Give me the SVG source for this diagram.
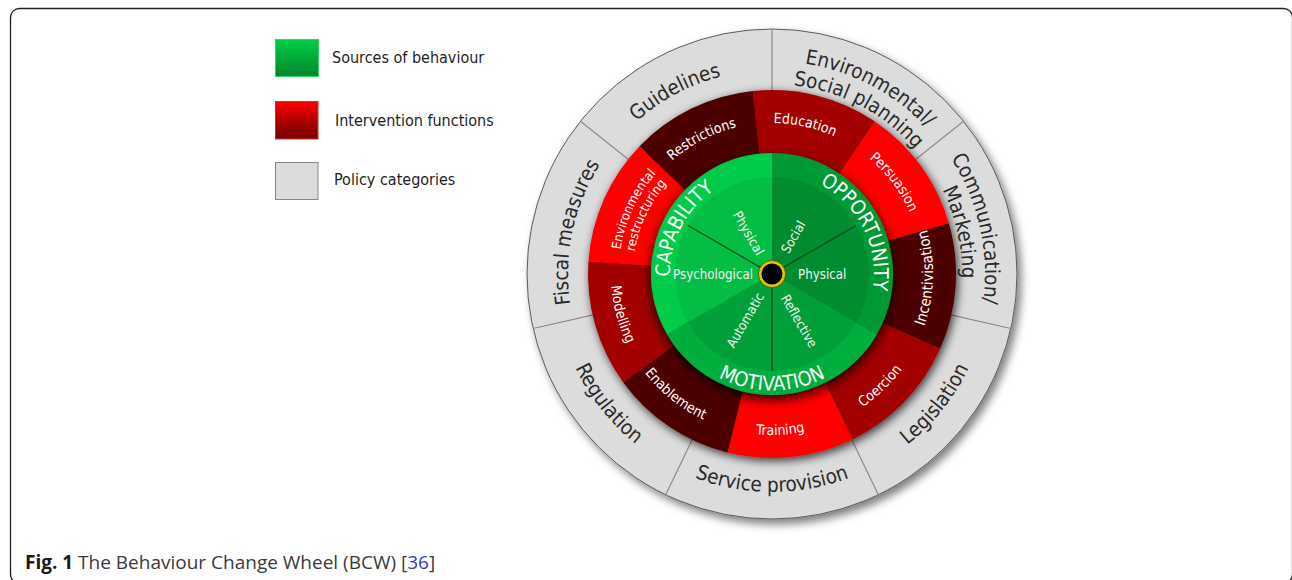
<svg xmlns="http://www.w3.org/2000/svg" width="1292" height="580" viewBox="0 0 1292 580">
<style>
.w{font-family:"DejaVu Sans Condensed","DejaVu Sans",sans-serif;font-stretch:condensed}
.pol{font-size:20.5px;fill:#2a2a2a}
.ifn{font-size:14px;fill:#ffffff}
.ifn2{font-size:13px;fill:#ffffff}
.src{font-size:20px;fill:#ffffff}
.sub{font-size:13.2px;fill:#f2f2f2}
.leg{font-family:"DejaVu Sans Condensed","DejaVu Sans",sans-serif;font-stretch:condensed;font-size:16px;fill:#1e1e1e}
.cap{font-family:"Open Sans","Liberation Sans",sans-serif;font-size:19px;fill:#3a3a3a}
.div{stroke:#8c8c8c;stroke-width:1.2}
.gl{stroke:#0b4a1c;stroke-width:1.3}
</style>
<defs>
<linearGradient id="lgG" x1="0" y1="0" x2="0" y2="1"><stop offset="0" stop-color="#00cf46"/><stop offset="1" stop-color="#00852b"/></linearGradient>
<linearGradient id="lgR" x1="0" y1="0" x2="0" y2="1"><stop offset="0" stop-color="#ff0000"/><stop offset="0.6" stop-color="#a00000"/><stop offset="1" stop-color="#7a0000"/></linearGradient>
<filter id="shGray" x="-15%" y="-15%" width="135%" height="135%"><feDropShadow dx="4" dy="5" stdDeviation="4" flood-color="#000" flood-opacity="0.5"/></filter>
<filter id="shRed" x="-15%" y="-15%" width="135%" height="135%"><feDropShadow dx="2" dy="3" stdDeviation="5" flood-color="#000" flood-opacity="0.75"/></filter>
<filter id="shGreen" x="-20%" y="-20%" width="140%" height="140%"><feDropShadow dx="0" dy="4" stdDeviation="6" flood-color="#000" flood-opacity="0.9"/></filter>
<path id="gT" d="M-204,0 A204,204 0 0 1 204,0"/>
<path id="gB" d="M-218,0 A218,218 0 0 0 218,0"/>
<path id="gT2o" d="M-213,0 A213,213 0 0 1 213,0"/>
<path id="gT2i" d="M-190,0 A190,190 0 0 1 190,0"/>
<path id="rT" d="M-151,0 A151,151 0 0 1 151,0"/>
<path id="rB" d="M-161,0 A161,161 0 0 0 161,0"/>
<path id="rT2o" d="M-153.5,0 A153.5,153.5 0 0 1 153.5,0"/>
<path id="rT2i" d="M-139,0 A139,139 0 0 1 139,0"/>
<path id="cT" d="M-102,0 A102,102 0 0 1 102,0"/>
<path id="cB" d="M-116.5,0 A116.5,116.5 0 0 0 116.5,0"/>
</defs>

<rect x="10.5" y="8.5" width="1282" height="575" rx="9" fill="none" stroke="#222" stroke-width="1.3"/>

<g id="legend">
<g id="legend-sources">
<rect x="275.5" y="39.5" width="43" height="37" fill="url(#lgG)" stroke="#33d466" stroke-width="1"/>
<text class="leg" x="332" y="62.5">Sources of behaviour</text>
</g>
<g id="legend-interventions">
<rect x="275.5" y="101.5" width="42.5" height="37.5" fill="url(#lgR)" stroke="#d23030" stroke-width="1"/>
<text class="leg" x="335" y="125.5">Intervention functions</text>
</g>
<g id="legend-policy">
<rect x="275.5" y="162.5" width="42.5" height="37" fill="#dcdcdc" stroke="#888" stroke-width="1"/>
<text class="leg" x="334" y="185">Policy categories</text>
</g>
</g>

<g id="wheel" transform="translate(772 274)">
<g id="policy-ring">
<circle r="245" fill="#dcdcdc" stroke="#5a5a5a" stroke-width="1" filter="url(#shGray)"/>
</g>
<g id="dividers">
<line class="div" x1="0" y1="-180" x2="0" y2="-245"/>
<line class="div" x1="140.73" y1="-112.23" x2="191.55" y2="-152.76"/>
<line class="div" x1="175.49" y1="40.05" x2="238.86" y2="54.52"/>
<line class="div" x1="78.10" y1="162.17" x2="106.30" y2="220.74"/>
<line class="div" x1="-78.10" y1="162.17" x2="-106.30" y2="220.74"/>
<line class="div" x1="-175.49" y1="40.05" x2="-238.86" y2="54.52"/>
<line class="div" x1="-140.73" y1="-112.23" x2="-191.55" y2="-152.76"/>
</g>

<g id="pol-env-social" class="w pol" transform="rotate(27.7)">
<text><textPath href="#gT2o" startOffset="50%" text-anchor="middle">Environmental/</textPath></text>
<text><textPath href="#gT2i" startOffset="50%" text-anchor="middle">Social planning</textPath></text>
</g>
<g id="pol-communication" class="w pol" transform="rotate(77.5)">
<text><textPath href="#gT2o" startOffset="50%" text-anchor="middle">Communication/</textPath></text>
<text><textPath href="#gT2i" startOffset="50%" text-anchor="middle">Marketing</textPath></text>
</g>
<g id="pol-legislation" class="w pol" transform="rotate(-51.4)">
<text><textPath href="#gB" startOffset="50%" text-anchor="middle">Legislation</textPath></text>
</g>
<g id="pol-service" class="w pol">
<text><textPath href="#gB" startOffset="50%" text-anchor="middle">Service provision</textPath></text>
</g>
<g id="pol-regulation" class="w pol" transform="rotate(51.6)">
<text><textPath href="#gB" startOffset="50%" text-anchor="middle">Regulation</textPath></text>
</g>
<g id="pol-fiscal" class="w pol" transform="rotate(-78)">
<text><textPath href="#gT" startOffset="50%" text-anchor="middle">Fiscal measures</textPath></text>
</g>
<g id="pol-guidelines" class="w pol" transform="rotate(-28)">
<text><textPath href="#gT" startOffset="50%" text-anchor="middle">Guidelines</textPath></text>
</g>

<g id="intervention-ring" filter="url(#shRed)">
<path id="if-education" d="M0,0 L-19.23,-182.99 A184,184 0 0 1 102.89,-152.54 Z" fill="#a30000"/>
<path id="if-persuasion" d="M0,0 L102.89,-152.54 A184,184 0 0 1 176.87,-50.72 Z" fill="#ff0000"/>
<path id="if-incentivisation" d="M0,0 L176.87,-50.72 A184,184 0 0 1 168.09,74.84 Z" fill="#4d0000"/>
<path id="if-coercion" d="M0,0 L168.09,74.84 A184,184 0 0 1 80.66,165.38 Z" fill="#a30000"/>
<path id="if-training" d="M0,0 L80.66,165.38 A184,184 0 0 1 -44.51,178.54 Z" fill="#ff0000"/>
<path id="if-enablement" d="M0,0 L-44.51,178.54 A184,184 0 0 1 -148.86,108.15 Z" fill="#4d0000"/>
<path id="if-modelling" d="M0,0 L-148.86,108.15 A184,184 0 0 1 -183.55,-12.84 Z" fill="#a30000"/>
<path id="if-envrestructuring" d="M0,0 L-183.55,-12.84 A184,184 0 0 1 -132.36,-127.82 Z" fill="#ff0000"/>
<path id="if-restrictions" d="M0,0 L-132.36,-127.82 A184,184 0 0 1 -19.23,-182.99 Z" fill="#4d0000"/>
</g>

<g id="lbl-education" class="w ifn" transform="rotate(12.5)"><text><textPath href="#rT" startOffset="50%" text-anchor="middle">Education</textPath></text></g>
<g id="lbl-persuasion" class="w ifn" transform="rotate(53)"><text><textPath href="#rT" startOffset="50%" text-anchor="middle">Persuasion</textPath></text></g>
<g id="lbl-incentivisation" class="w ifn" transform="rotate(-88.5)" style="font-size:15px"><text><textPath href="#rB" startOffset="50%" text-anchor="middle">Incentivisation</textPath></text></g>
<g id="lbl-coercion" class="w ifn" transform="rotate(-44)"><text><textPath href="#rB" startOffset="50%" text-anchor="middle">Coercion</textPath></text></g>
<g id="lbl-training" class="w ifn" transform="rotate(-3)"><text><textPath href="#rB" startOffset="50%" text-anchor="middle">Training</textPath></text></g>
<g id="lbl-enablement" class="w ifn" transform="rotate(38.7)"><text><textPath href="#rB" startOffset="50%" text-anchor="middle">Enablement</textPath></text></g>
<g id="lbl-modelling" class="w ifn" transform="rotate(75)"><text><textPath href="#rB" startOffset="50%" text-anchor="middle">Modelling</textPath></text></g>
<g id="lbl-envrestructuring" class="w ifn2" transform="rotate(-65)">
<text><textPath href="#rT2o" startOffset="50%" text-anchor="middle">Environmental</textPath></text>
<text><textPath href="#rT2i" startOffset="50%" text-anchor="middle">restructuring</textPath></text>
</g>
<g id="lbl-restrictions" class="w ifn" transform="rotate(-27.5)"><text><textPath href="#rT" startOffset="50%" text-anchor="middle">Restrictions</textPath></text></g>

<g id="sources" filter="url(#shGreen)">
<path id="src-capability" d="M0,0 L-104.79,60.5 A121,121 0 0 1 0,-121 Z" fill="#02cc48"/>
<path id="src-opportunity" d="M0,0 L0,-121 A121,121 0 0 1 104.79,60.5 Z" fill="#009a34"/>
<path id="src-motivation" d="M0,0 L104.79,60.5 A121,121 0 0 1 -104.79,60.5 Z" fill="#00ae3c"/>
</g>
<g id="sources-inner">
<path d="M0,0 L-84,48.5 A97,97 0 0 1 0,-97 Z" fill="#04bd45"/>
<path d="M0,0 L0,-97 A97,97 0 0 1 84,48.5 Z" fill="#008c2f"/>
<path d="M0,0 L84,48.5 A97,97 0 0 1 -84,48.5 Z" fill="#00a038"/>
<line class="gl" x1="0" y1="0" x2="84" y2="-48.5"/>
<line class="gl" x1="0" y1="0" x2="0" y2="97"/>
<line class="gl" x1="0" y1="0" x2="-84" y2="-48.5"/>
</g>

<g id="lbl-capability" class="w src" transform="rotate(-63)"><text><textPath href="#cT" startOffset="50%" text-anchor="middle">CAPABILITY</textPath></text></g>
<g id="lbl-opportunity" class="w src" transform="rotate(63.5)"><text><textPath href="#cT" startOffset="50%" text-anchor="middle">OPPORTUNITY</textPath></text></g>
<g id="lbl-motivation" class="w src"><text><textPath href="#cB" startOffset="50%" text-anchor="middle">MOTIVATION</textPath></text></g>

<g id="sub-psychological" class="w sub"><text x="-19" y="4.5" text-anchor="end">Psychological</text></g>
<g id="sub-physical-cap" class="w sub" transform="rotate(60)"><text x="-23" y="4.5" text-anchor="end">Physical</text></g>
<g id="sub-social" class="w sub" transform="rotate(-60)"><text x="25" y="4.5">Social</text></g>
<g id="sub-physical-opp" class="w sub"><text x="26" y="4.5">Physical</text></g>
<g id="sub-reflective" class="w sub" transform="rotate(60)"><text x="25" y="4.5">Reflective</text></g>
<g id="sub-automatic" class="w sub" transform="rotate(-60)"><text x="-23" y="4.5" text-anchor="end">Automatic</text></g>

<g id="hub">
<circle r="12" fill="#000" stroke="#e8c400" stroke-width="3"/>
<circle r="13.6" fill="none" stroke="#5c4a00" stroke-width="0.8"/>
</g>
</g>

<g id="caption">
<text class="cap" x="25" y="569"><tspan font-weight="bold" fill="#1a1a1a">Fig. 1</tspan> The Behaviour Change Wheel (BCW) [<tspan fill="#3535e0">36</tspan>]</text>
</g>
</svg>
